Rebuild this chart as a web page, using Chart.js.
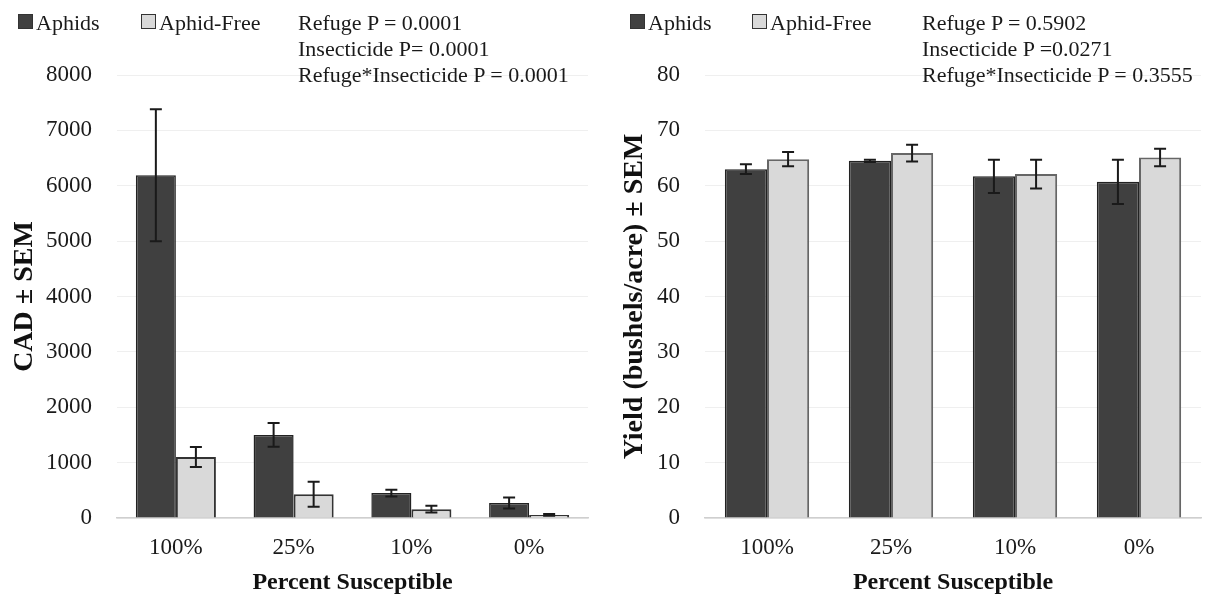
<!DOCTYPE html>
<html>
<head>
<meta charset="utf-8">
<script src="https://cdn.jsdelivr.net/npm/chart.js@4.4.1/dist/chart.umd.min.js"></script>
<style>
  body { margin: 0; background: #fff; font-family: 'Liberation Serif', 'Times New Roman', serif; }
  #wrap { position: relative; width: 1215px; height: 599px; overflow: hidden; }
  canvas { position: absolute; top: 0; }
  .legend, .stats { position: absolute; font-size: 22px; color: #1a1a1a; white-space: nowrap; }
  .legend span.item { position: absolute; top: 0; }
  .legend i { display: inline-block; width: 13px; height: 13px; border: 1.5px solid #333; margin-right: 3px; vertical-align: 1px; }
  .stats { line-height: 26px; }
</style>
</head>
<body>
<div id="wrap">
  <canvas id="cadChart" width="607" height="599" style="left:0"></canvas>
  <canvas id="yieldChart" width="608" height="599" style="left:607px"></canvas>
  <div class="legend" id="cadLegend" style="left:18px; top:10px"></div>
  <div class="legend" id="yieldLegend" style="left:630px; top:10px"></div>
  <div class="stats" id="cadStats" style="left:298px; top:10px"></div>
  <div class="stats" id="yieldStats" style="left:922px; top:10px"></div>
</div>
<script>
const categories = ['100%', '25%', '10%', '0%'];
const seriesNames = ['Aphids', 'Aphid-Free'];

// CAD (left panel)
const cadAphids = [6190, 1500, 450, 270];
const cadAphidsSem = [1190, 215, 60, 100];
const cadFree = [1100, 430, 160, 55];
const cadFreeSem = [180, 225, 60, 15];
const cadTicks = [0, 1000, 2000, 3000, 4000, 5000, 6000, 7000, 8000];
const cadStatsText = ['Refuge P = 0.0001', 'Insecticide P= 0.0001', 'Refuge*Insecticide P = 0.0001'];

// Yield (right panel)
const yieldAphids = [63.0, 64.5, 61.7, 60.7];
const yieldAphidsSem = [0.9, 0.2, 3.0, 4.0];
const yieldFree = [64.8, 65.9, 62.1, 65.1];
const yieldFreeSem = [1.3, 1.5, 2.6, 1.6];
const yieldTicks = [0, 10, 20, 30, 40, 50, 60, 70, 80];
const yieldStatsText = ['Refuge P = 0.5902', 'Insecticide P =0.0271', 'Refuge*Insecticide P = 0.3555'];

const DARK = '#404040';
const LIGHT = '#d9d9d9';

// draws mean ± SEM whiskers using the y scale
const errorBars = {
    id: 'errorBars',
    afterDatasetsDraw(chart) {
        const ctx = chart.ctx;
        const yScale = chart.scales.y;
        chart.data.datasets.forEach((ds, i) => {
            const meta = chart.getDatasetMeta(i);
            meta.data.forEach((bar, j) => {
                const v = ds.data[j], e = ds.sem[j];
                const yTop = yScale.getPixelForValue(v + e);
                const yBot = yScale.getPixelForValue(v - e);
                ctx.save();
                ctx.strokeStyle = '#1a1a1a';
                ctx.lineWidth = 2;
                ctx.beginPath();
                ctx.moveTo(bar.x, yTop); ctx.lineTo(bar.x, yBot);
                ctx.moveTo(bar.x - 6, yTop); ctx.lineTo(bar.x + 6, yTop);
                ctx.moveTo(bar.x - 6, yBot); ctx.lineTo(bar.x + 6, yBot);
                ctx.stroke();
                ctx.restore();
            });
        });
    }
};

function makeChart(id, aphids, aphidsSem, free, freeSem, ticks, yTitle, yWidth, padRight, titlePad, freeBorder) {
    const ctx = document.getElementById(id).getContext('2d');
    return new Chart(ctx, {
        type: 'bar',
        data: {
            labels: categories,
            datasets: [
                { label: seriesNames[0], data: aphids, sem: aphidsSem, backgroundColor: DARK, borderColor: '#222', borderWidth: 1.5 },
                { label: seriesNames[1], data: free, sem: freeSem, backgroundColor: LIGHT, borderColor: freeBorder, borderWidth: 2 }
            ]
        },
        options: {
            responsive: false,
            animation: false,
            layout: { padding: { top: 75, right: padRight, left: 0, bottom: 0 } },
            datasets: { bar: { categoryPercentage: 0.68, barPercentage: 1.0 } },
            plugins: { legend: { display: false }, tooltip: { enabled: false } },
            scales: {
                x: {
                    grid: { display: false, drawTicks: false },
                    border: { color: '#cfcfcf', width: 1.5 },
                    ticks: { color: '#1a1a1a', padding: 16, font: { family: 'Liberation Serif', size: 23 } },
                    title: { display: true, text: 'Percent Susceptible', color: '#111', padding: { top: 0, bottom: 2 },
                             font: { family: 'Liberation Serif', size: 24, weight: 'bold' } },
                    afterFit(scale) { scale.height = 81; }
                },
                y: {
                    min: ticks[0], max: ticks[ticks.length - 1],
                    afterBuildTicks(scale) { scale.ticks = ticks.map(v => ({ value: v })); },
                    grid: { color: '#efefef', drawTicks: false },
                    border: { display: false },
                    ticks: { color: '#1a1a1a', padding: 25, font: { family: 'Liberation Serif', size: 23 },
                             callback: v => String(v) },
                    title: { display: true, text: yTitle, color: '#111', padding: { top: titlePad, bottom: 0 },
                             font: { family: 'Liberation Serif', size: 28, weight: 'bold' } },
                    afterFit(scale) { scale.width = yWidth; }
                }
            }
        },
        plugins: [errorBars]
    });
}

makeChart('cadChart', cadAphids, cadAphidsSem, cadFree, cadFreeSem, cadTicks, 'CAD \u00b1 SEM', 117, 19, 8, '#333');
makeChart('yieldChart', yieldAphids, yieldAphidsSem, yieldFree, yieldFreeSem, yieldTicks, 'Yield (bushels/acre) \u00b1 SEM', 98, 14, 11, '#666');

function buildLegend(elId, gap) {
    const el = document.getElementById(elId);
    const fills = [DARK, LIGHT];
    seriesNames.forEach((name, i) => {
        const s = document.createElement('span');
        s.className = 'item';
        s.style.left = (i * gap) + 'px';
        s.innerHTML = '<i style="background:' + fills[i] + '"></i>' + name;
        el.appendChild(s);
    });
}
buildLegend('cadLegend', 123);
buildLegend('yieldLegend', 122);

document.getElementById('cadStats').innerHTML = cadStatsText.join('<br>');
document.getElementById('yieldStats').innerHTML = yieldStatsText.join('<br>');
</script>
</body>
</html>
